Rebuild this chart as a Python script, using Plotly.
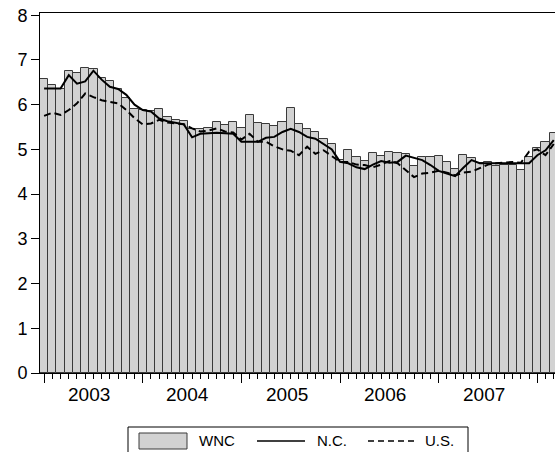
import plotly.graph_objects as go

# Monthly observations, Jan 2003 .. Mar 2008
months = [f"{y}-{m:02d}" for y in range(2003, 2009) for m in range(1, 13)][:63]

wnc = [6.57, 6.44, 6.34, 6.76, 6.70, 6.82, 6.79, 6.60, 6.52, 6.36, 6.15, 5.90,
       5.87, 5.86, 5.91, 5.73, 5.65, 5.63, 5.45, 5.46, 5.48, 5.62, 5.54, 5.62,
       5.47, 5.77, 5.58, 5.57, 5.53, 5.62, 5.93, 5.57, 5.45, 5.38, 5.24, 5.12,
       4.77, 4.98, 4.83, 4.75, 4.91, 4.85, 4.94, 4.92, 4.89, 4.63, 4.83, 4.82,
       4.86, 4.71, 4.56, 4.87, 4.80, 4.70, 4.72, 4.64, 4.66, 4.66, 4.53, 4.84,
       5.03, 5.16, 5.36]

nc = [6.36, 6.36, 6.36, 6.66, 6.47, 6.52, 6.76, 6.56, 6.40, 6.35, 6.22, 6.00,
      5.88, 5.85, 5.69, 5.63, 5.60, 5.56, 5.27, 5.35, 5.36, 5.37, 5.36, 5.35,
      5.17, 5.17, 5.17, 5.26, 5.28, 5.39, 5.46, 5.39, 5.28, 5.24, 5.12, 5.00,
      4.72, 4.69, 4.60, 4.56, 4.66, 4.74, 4.70, 4.72, 4.86, 4.81, 4.76, 4.65,
      4.52, 4.46, 4.40, 4.59, 4.76, 4.69, 4.69, 4.69, 4.69, 4.69, 4.69, 4.69,
      4.87, 4.98, 5.21]

us = [5.75, 5.82, 5.77, 5.88, 6.03, 6.25, 6.17, 6.10, 6.06, 6.03, 5.88, 5.70,
      5.56, 5.58, 5.66, 5.60, 5.58, 5.56, 5.47, 5.40, 5.42, 5.47, 5.40, 5.38,
      5.22, 5.35, 5.17, 5.17, 5.07, 5.00, 4.97, 4.87, 5.06, 4.90, 4.98, 4.86,
      4.72, 4.72, 4.66, 4.65, 4.60, 4.66, 4.74, 4.69, 4.54, 4.38, 4.46, 4.48,
      4.52, 4.48, 4.42, 4.48, 4.50, 4.58, 4.66, 4.69, 4.70, 4.72, 4.70, 4.95,
      5.00, 4.87, 5.12]

year_labels = ["2003", "2004", "2005", "2006", "2007"]
y_ticks = [0, 1, 2, 3, 4, 5, 6, 7, 8]
legend_names = ["WNC", "N.C.", "U.S."]

idx = list(range(len(months)))
FONT = "Liberation Sans, Arial, sans-serif"

fig = go.Figure()
fig.add_trace(go.Bar(x=idx, y=wnc, name=legend_names[0], width=1.0,
                     marker=dict(color="#d2d2d2", line=dict(color="#3a3a3a", width=1)),
                     showlegend=False))
fig.add_trace(go.Scatter(x=idx, y=nc, name=legend_names[1], mode="lines",
                         line=dict(color="black", width=2), showlegend=False))
fig.add_trace(go.Scatter(x=idx, y=us, name=legend_names[2], mode="lines",
                         line=dict(color="black", width=2, dash="7px,4px"), showlegend=False))

# page margin removed (see post_script) so figure pixels == window pixels
OFF = 0
W, H = 555, 452
L, R, T, B = 40, 0, 13, 79
pw, ph = W - L - R, H - T - B

def px(x):
    return (x - OFF - L) / pw

def py(y):
    return (H - B - (y - OFF)) / ph

fig.update_layout(
    width=W, height=H,
    margin=dict(l=L, r=R, t=T, b=B),
    paper_bgcolor="white", plot_bgcolor="white",
    bargap=0,
    font=dict(family=FONT, size=18, color="black"),
    xaxis=dict(range=[-0.5, 62.15], showgrid=False, zeroline=False,
               showline=True, mirror=True, linecolor="black", linewidth=1,
               tickmode="array", tickvals=[0, 12, 24, 36, 48, 60],
               ticks="outside", ticklen=9, tickcolor="black", tickwidth=1,
               showticklabels=False, automargin=False,
               minor=dict(dtick=1, tick0=0, ticks="outside", ticklen=5,
                          tickcolor="black", tickwidth=1, showgrid=False)),
    yaxis=dict(range=[0, 8.05], showgrid=False, zeroline=False,
               showline=True, mirror=True, linecolor="black", linewidth=1,
               tickmode="array", tickvals=y_ticks, ticktext=[str(v) for v in y_ticks],
               ticks="outside", ticklen=8, tickcolor="black", tickwidth=1,
               ticklabeloverflow="allow", automargin=False,
               tickfont=dict(size=18, family=FONT)),
)

annotations = []
for j, lab in enumerate(year_labels):
    annotations.append(dict(x=5.5 + 12 * j, xref="x", y=py(394), yref="paper",
                            text=lab, showarrow=False, xanchor="center", yanchor="middle",
                            font=dict(size=19, family=FONT)))

# custom legend
shapes = [
    dict(type="rect", xref="paper", yref="paper", x0=px(128), x1=px(468), y0=py(460), y1=py(427),
         line=dict(color="black", width=1), fillcolor="white", layer="above"),
    dict(type="rect", xref="paper", yref="paper", x0=px(139), x1=px(187), y0=py(449), y1=py(433),
         line=dict(color="#3a3a3a", width=1), fillcolor="#d2d2d2", layer="above"),
    dict(type="line", xref="paper", yref="paper", x0=px(257), x1=px(305), y0=py(441), y1=py(441),
         line=dict(color="black", width=1.5)),
    dict(type="line", xref="paper", yref="paper", x0=px(368), x1=px(417), y0=py(441), y1=py(441),
         line=dict(color="black", width=1.5, dash="6px,4px")),
]
for name, xl in zip(legend_names, [197, 315, 423]):
    annotations.append(dict(x=px(xl), xref="paper", y=py(440), yref="paper", text=name,
                            showarrow=False, xanchor="left", yanchor="middle",
                            font=dict(size=15, family=FONT)))

fig.update_layout(annotations=annotations, shapes=shapes)
fig.write_html(
    "out.html",
    config={"displayModeBar": False},
    post_script="document.documentElement.style.overflow='hidden';"
                "document.body.style.margin='0';document.body.style.overflow='hidden';",
)
